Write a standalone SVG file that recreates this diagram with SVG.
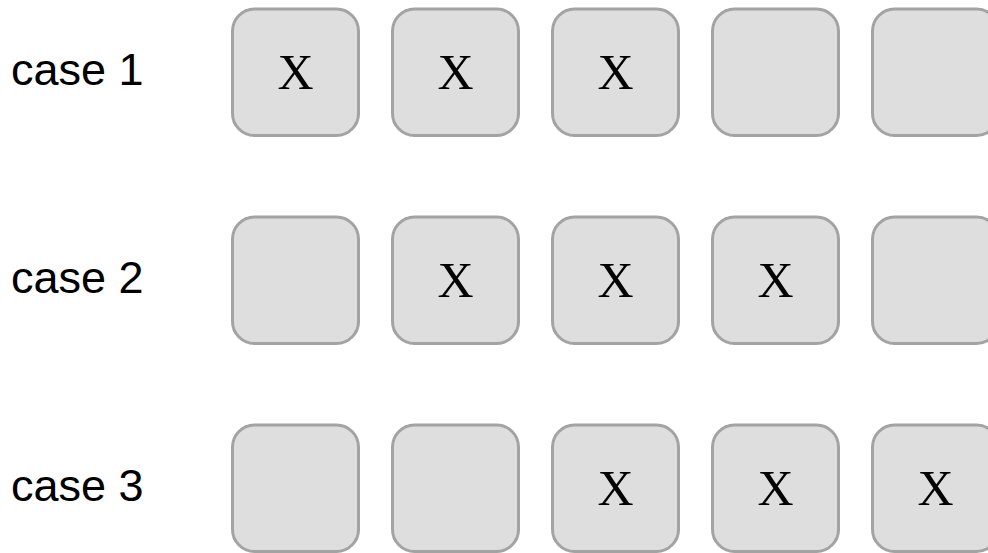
<svg xmlns="http://www.w3.org/2000/svg" width="988" height="553" viewBox="0 0 988 553">
<style>
.box{fill:#dedede;stroke:#a3a3a3;stroke-width:3}
.lbl{font-family:"Liberation Sans",Arial,sans-serif;font-size:45px;fill:#000}
.x{font-family:"Liberation Serif","Times New Roman",serif;font-size:50px;fill:#000;text-anchor:middle}
</style>
<rect width="988" height="553" fill="#ffffff"/>
<g id="labels">
<text class="lbl" x="11" y="85">case 1</text>
<text class="lbl" x="11" y="293">case 2</text>
<text class="lbl" x="11" y="501">case 3</text>
</g>
<g id="row1">
<g id="r1c1"><rect class="box" x="232.5" y="9" width="126" height="126.5" rx="22"/><text class="x" x="295.5" y="89">X</text></g>
<g id="r1c2"><rect class="box" x="392.5" y="9" width="126" height="126.5" rx="22"/><text class="x" x="455.5" y="89">X</text></g>
<g id="r1c3"><rect class="box" x="552.5" y="9" width="126" height="126.5" rx="22"/><text class="x" x="615.5" y="89">X</text></g>
<g id="r1c4"><rect class="box" x="712.5" y="9" width="126" height="126.5" rx="22"/></g>
<g id="r1c5"><rect class="box" x="872.5" y="9" width="126" height="126.5" rx="22"/></g>
</g>
<g id="row2">
<g id="r2c1"><rect class="box" x="232.5" y="217" width="126" height="126.5" rx="22"/></g>
<g id="r2c2"><rect class="box" x="392.5" y="217" width="126" height="126.5" rx="22"/><text class="x" x="455.5" y="297">X</text></g>
<g id="r2c3"><rect class="box" x="552.5" y="217" width="126" height="126.5" rx="22"/><text class="x" x="615.5" y="297">X</text></g>
<g id="r2c4"><rect class="box" x="712.5" y="217" width="126" height="126.5" rx="22"/><text class="x" x="775.5" y="297">X</text></g>
<g id="r2c5"><rect class="box" x="872.5" y="217" width="126" height="126.5" rx="22"/></g>
</g>
<g id="row3">
<g id="r3c1"><rect class="box" x="232.5" y="425" width="126" height="126.5" rx="22"/></g>
<g id="r3c2"><rect class="box" x="392.5" y="425" width="126" height="126.5" rx="22"/></g>
<g id="r3c3"><rect class="box" x="552.5" y="425" width="126" height="126.5" rx="22"/><text class="x" x="615.5" y="505">X</text></g>
<g id="r3c4"><rect class="box" x="712.5" y="425" width="126" height="126.5" rx="22"/><text class="x" x="775.5" y="505">X</text></g>
<g id="r3c5"><rect class="box" x="872.5" y="425" width="126" height="126.5" rx="22"/><text class="x" x="935.5" y="505">X</text></g>
</g>
<g id="connectors"/>
</svg>
